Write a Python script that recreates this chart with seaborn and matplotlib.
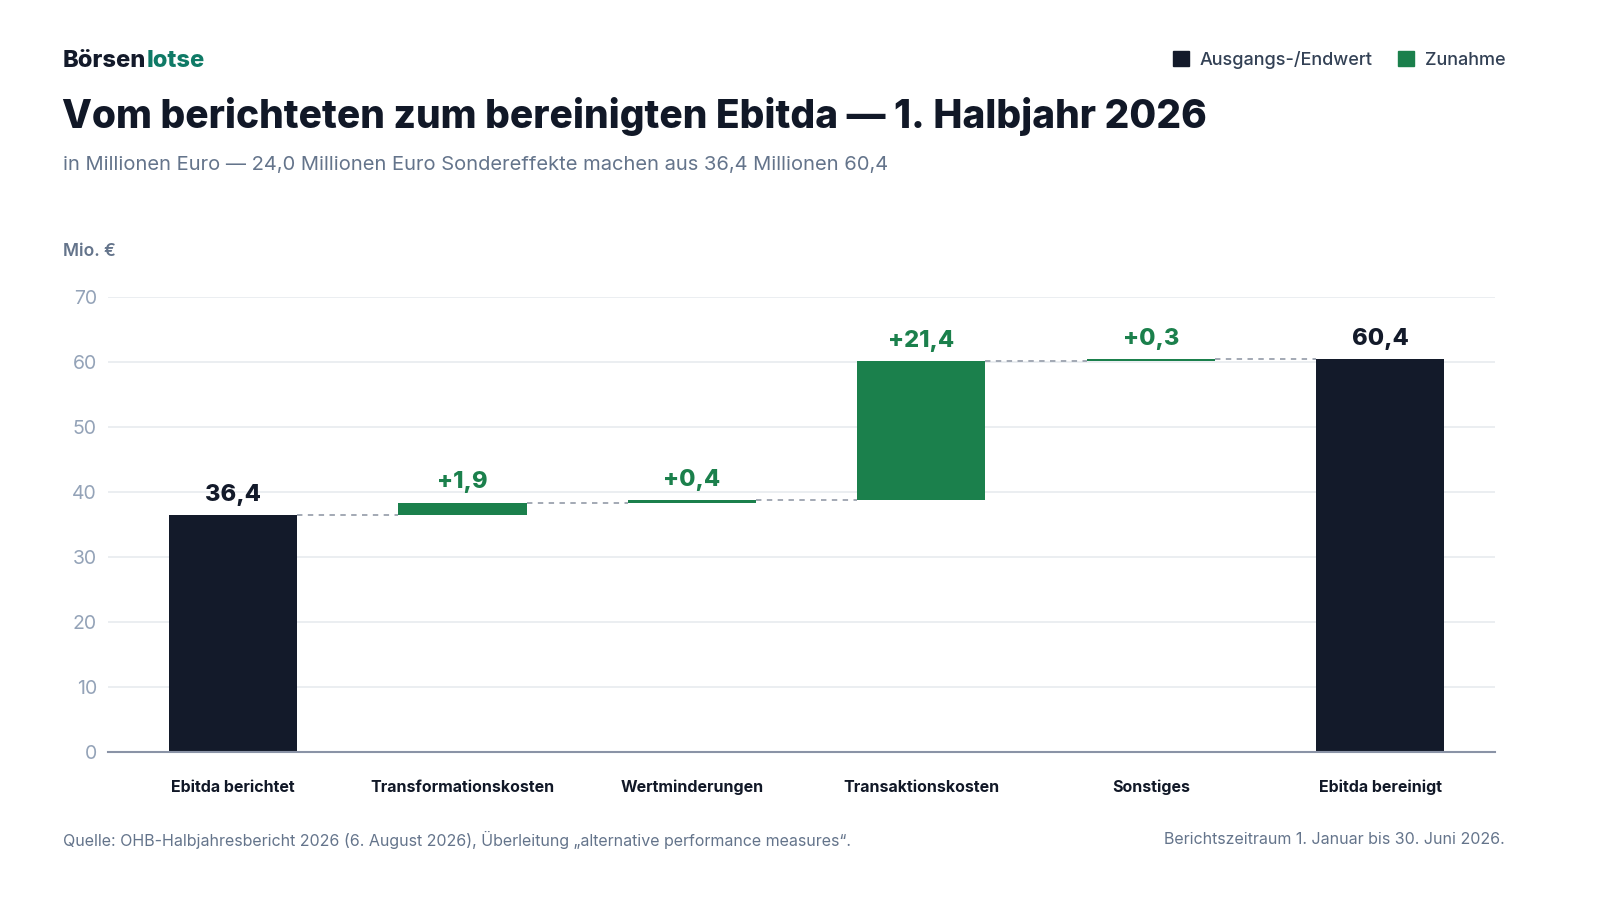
import numpy as np
import pandas as pd
import matplotlib
matplotlib.use("Agg")
import matplotlib.pyplot as plt
import matplotlib.patches as mpatches
import seaborn as sns

# data
categories = ["Ebitda berichtet", "Transformationskosten", "Wertminderungen",
              "Transaktionskosten", "Sonstiges", "Ebitda bereinigt"]
start_value = 36.4
changes = [1.9, 0.4, 21.4, 0.3]
end_value = 60.4
y_ticks = [0, 10, 20, 30, 40, 50, 60, 70]

DARK = "#131a2a"
GREEN = "#1b804c"
TEAL = "#0f7a66"
GRID = "#e8ebef"
MUTED = "#64748b"
TICK = "#94a3b8"
CONNECT = "#9ca3af"

sns.set_theme(style="white")
plt.rcParams["font.family"] = ["Inter", "DejaVu Sans"]

# running totals
running = np.concatenate([[start_value], start_value + np.cumsum(changes)])
bottoms = list(running[:-1])
df_total = pd.DataFrame({"cat": [categories[0], categories[-1]],
                         "height": [start_value, end_value]})
df_step = pd.DataFrame({"cat": categories[1:-1], "height": changes, "bottom": bottoms})

fig = plt.figure(figsize=(16, 9), dpi=100)
ax = fig.add_axes([108 / 1600, 1 - 752 / 900, (1495 - 108) / 1600, (752 - 297) / 900])

bar_w = 0.558
sns.barplot(data=df_total, x="cat", y="height", order=categories, color=DARK,
            saturation=1, width=bar_w, errorbar=None, ax=ax, linewidth=0)
sns.barplot(data=df_step, x="cat", y="height", order=categories, color=GREEN,
            saturation=1, width=bar_w, errorbar=None, ax=ax, linewidth=0,
            bottom=df_step["bottom"].values)

ax.set_xlim(-0.545, 5.5)
ax.set_ylim(0, 70)
ax.set_yticks(y_ticks)
ax.set_yticklabels([str(t) for t in y_ticks])
ax.yaxis.grid(True, color=GRID, linewidth=1.2)
ax.set_axisbelow(True)
for s in ["top", "right", "left"]:
    ax.spines[s].set_visible(False)
ax.spines["bottom"].set_color("#8a93a6")
ax.spines["bottom"].set_linewidth(1.5)
ax.tick_params(axis="y", length=0, pad=8, labelsize=14, labelcolor=TICK)
ax.tick_params(axis="x", length=0, pad=20, labelsize=11.5, labelcolor="#111827")
for lbl in ax.get_xticklabels():
    lbl.set_fontweight("bold")
ax.set_xlabel("")
ax.set_ylabel("")

# connectors
levels = list(running)
for i in range(len(categories) - 1):
    ax.plot([i + bar_w / 2, i + 1 - bar_w / 2], [levels[i], levels[i]],
            color=CONNECT, linestyle=(0, (3, 3)), linewidth=1.3, zorder=1)

# value labels
def fmt(v):
    return f"{v:.1f}".replace(".", ",")

ax.text(0, start_value + 1.5, fmt(start_value), ha="center", va="bottom",
        fontsize=17, fontweight="heavy", color=DARK)
for i, (c, b) in enumerate(zip(changes, bottoms), start=1):
    ax.text(i, b + c + 1.5, "+" + fmt(c), ha="center", va="bottom",
            fontsize=17, fontweight="heavy", color=GREEN)
ax.text(5, end_value + 1.5, fmt(end_value), ha="center", va="bottom",
        fontsize=17, fontweight="heavy", color=DARK)

# header
t1 = fig.text(63 / 1600, 1 - 61 / 900, "Börsen", fontsize=17, fontweight="heavy",
              color=DARK, va="center", ha="left")
fig.canvas.draw()
bb = t1.get_window_extent()
fig.text(bb.x1 / fig.bbox.width, 1 - 61 / 900, "lotse", fontsize=17, fontweight="heavy",
         color=TEAL, va="center", ha="left")
fig.text(62 / 1600, 1 - 116 / 900, "Vom berichteten zum bereinigten Ebitda — 1. Halbjahr 2026",
         fontsize=28, fontweight="heavy", color="#111827", va="center", ha="left")
fig.text(63 / 1600, 1 - 165 / 900,
         "in Millionen Euro — 24,0 Millionen Euro Sondereffekte machen aus 36,4 Millionen 60,4",
         fontsize=14.5, color=MUTED, va="center", ha="left")
fig.text(63 / 1600, 1 - 252 / 900, "Mio. €", fontsize=12.5, color=MUTED,
         fontweight="semibold", va="center", ha="left")

handles = [mpatches.Patch(color=DARK, label="Ausgangs-/Endwert"),
           mpatches.Patch(color=GREEN, label="Zunahme")]
leg = fig.legend(handles=handles, loc="center right",
                 bbox_to_anchor=(1522 / 1600, 1 - 60 / 900),
                 ncol=2, frameon=False, fontsize=13, handlelength=0.9, handleheight=0.9,
                 handletextpad=0.6, columnspacing=1.4, labelcolor="#334155")
for t in leg.get_texts():
    t.set_fontweight("medium")

# footer
fig.text(63 / 1600, 1 - 840 / 900,
         "Quelle: OHB-Halbjahresbericht 2026 (6. August 2026), Überleitung „alternative performance measures“.",
         fontsize=11.5, color=MUTED, va="center", ha="left")
fig.text(1505 / 1600, 1 - 840 / 900, "Berichtszeitraum 1. Januar bis 30. Juni 2026.",
         fontsize=11.5, color=MUTED, va="center", ha="right")

fig.savefig("out.png", dpi=100, facecolor="white")
